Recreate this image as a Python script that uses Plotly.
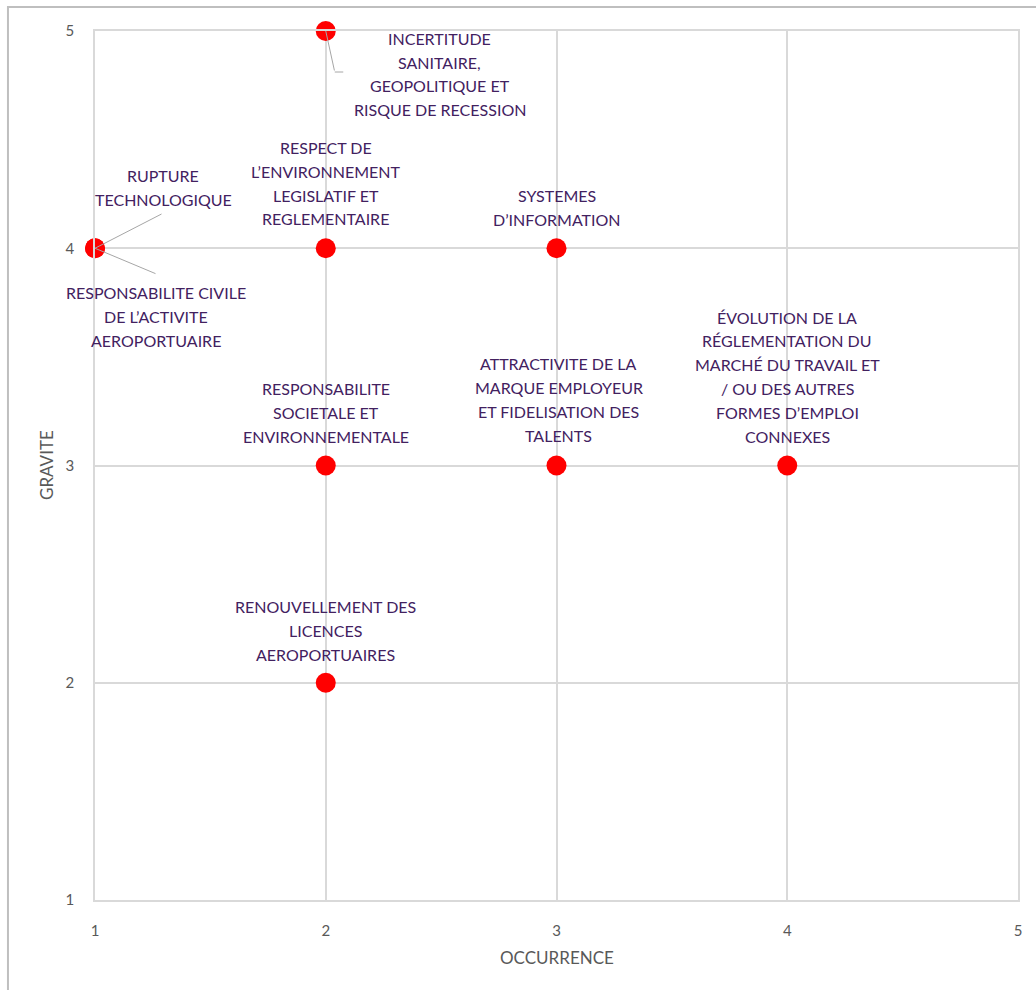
import plotly.graph_objects as go

# Risk matrix: occurrence (x) vs severity (y)
risques = [
    ["INCERTITUDE", "SANITAIRE,", "GEOPOLITIQUE ET", "RISQUE DE RECESSION"],
    ["RESPECT DE", "L’ENVIRONNEMENT", "LEGISLATIF ET", "REGLEMENTAIRE"],
    ["RUPTURE", "TECHNOLOGIQUE"],
    ["RESPONSABILITE CIVILE", "DE L’ACTIVITE", "AEROPORTUAIRE"],
    ["SYSTEMES", "D’INFORMATION"],
    ["ÉVOLUTION DE LA", "RÉGLEMENTATION DU", "MARCHÉ DU TRAVAIL ET",
     "/ OU DES AUTRES", "FORMES D’EMPLOI", "CONNEXES"],
    ["ATTRACTIVITE DE LA", "MARQUE EMPLOYEUR", "ET FIDELISATION DES", "TALENTS"],
    ["RESPONSABILITE", "SOCIETALE ET", "ENVIRONNEMENTALE"],
    ["RENOUVELLEMENT DES", "LICENCES", "AEROPORTUAIRES"],
]
occurrence = [2, 2, 1, 1, 3, 4, 3, 2, 2]
gravite = [5, 4, 4, 4, 4, 3, 3, 3, 2]

# label placement (pixel shifts of the label centre from each point)
label_dx = [114, 0, 68, 61, 0, 0, 2, 0, 0]
label_dy = [-43, 65, 61, -68, 41, 89, 66, 53, 52]
leader_ax = [None, None, 68, 62, None, None, None, None, None]
leader_ay = [None, None, -35, 26, None, None, None, None, None]

tick_vals = [1, 2, 3, 4, 5]

FONT = "Lato"
LABEL_COLOR = "#42215f"
GRID = "#d9d9d9"
TICK_COLOR = "#595959"
LINE_STEP = 23.8

fig = go.Figure()
fig.add_trace(go.Scatter(
    x=occurrence, y=gravite, mode="markers",
    marker=dict(color="#ff0000", size=20, line=dict(width=0)),
    hoverinfo="skip", showlegend=False, cliponaxis=False,
))

annotations = []
for lines, x, y, dx, dy in zip(risques, occurrence, gravite, label_dx, label_dy):
    n = len(lines)
    for i, line in enumerate(lines):
        annotations.append(dict(
            x=x, y=y, xref="x", yref="y", text=line, showarrow=False,
            xanchor="center", yanchor="middle", xshift=dx,
            yshift=dy + ((n - 1) / 2 - i) * LINE_STEP,
            font=dict(family=FONT, size=16, color=LABEL_COLOR),
        ))

# straight leader lines
for x, y, ax, ay in zip(occurrence, gravite, leader_ax, leader_ay):
    if ax is None:
        continue
    annotations.append(dict(
        x=x, y=y, xref="x", yref="y", text="", showarrow=True,
        arrowhead=0, arrowwidth=1, arrowcolor="#a6a6a6",
        ax=ax, ay=ay, standoff=0, startstandoff=0,
    ))

# bent leader for the top label
annotations.append(dict(
    x=occurrence[0], y=gravite[0], xref="x", yref="y", text="", showarrow=True,
    arrowhead=0, arrowwidth=1, arrowcolor="#a6a6a6", ax=9, ay=41,
))
annotations.append(dict(
    x=occurrence[0], y=gravite[0], xref="x", yref="y", text="", showarrow=True,
    arrowhead=0, arrowwidth=1, arrowcolor="#a6a6a6", ax=10, ay=0,
    xshift=9, yshift=-41,
))

# axis titles
annotations.append(dict(
    x=0.5, y=-0.0667, xref="paper", yref="paper", text="OCCURRENCE",
    showarrow=False, xanchor="center", yanchor="middle",
    font=dict(family=FONT, size=17, color=TICK_COLOR),
))
annotations.append(dict(
    x=-0.0525, y=0.5, xref="paper", yref="paper", text="GRAVITE",
    showarrow=False, xanchor="center", yanchor="middle", textangle=-90,
    font=dict(family=FONT, size=17, color=TICK_COLOR),
))

axis_common = dict(
    range=[1, 5], tickvals=tick_vals, showgrid=True, gridcolor=GRID,
    gridwidth=1.5, showline=True, linecolor=GRID, linewidth=1.5,
    mirror=True, zeroline=False, ticks="",
    tickfont=dict(family=FONT, size=15, color=TICK_COLOR),
)

fig.update_layout(
    width=1036, height=990,
    margin=dict(l=95, r=18, t=31, b=90),
    paper_bgcolor="white", plot_bgcolor="white",
    xaxis=dict(**axis_common, ticklabelstandoff=16),
    yaxis=dict(**axis_common, ticklabelstandoff=16),
    annotations=annotations,
    shapes=[dict(
        type="rect", xref="paper", yref="paper",
        x0=-0.0943, x1=1.2, y0=-0.3, y1=1.0276,
        line=dict(color="#bfbfbf", width=2), fillcolor="rgba(0,0,0,0)",
        layer="below",
    )],
)

fig.write_html("out.html")
